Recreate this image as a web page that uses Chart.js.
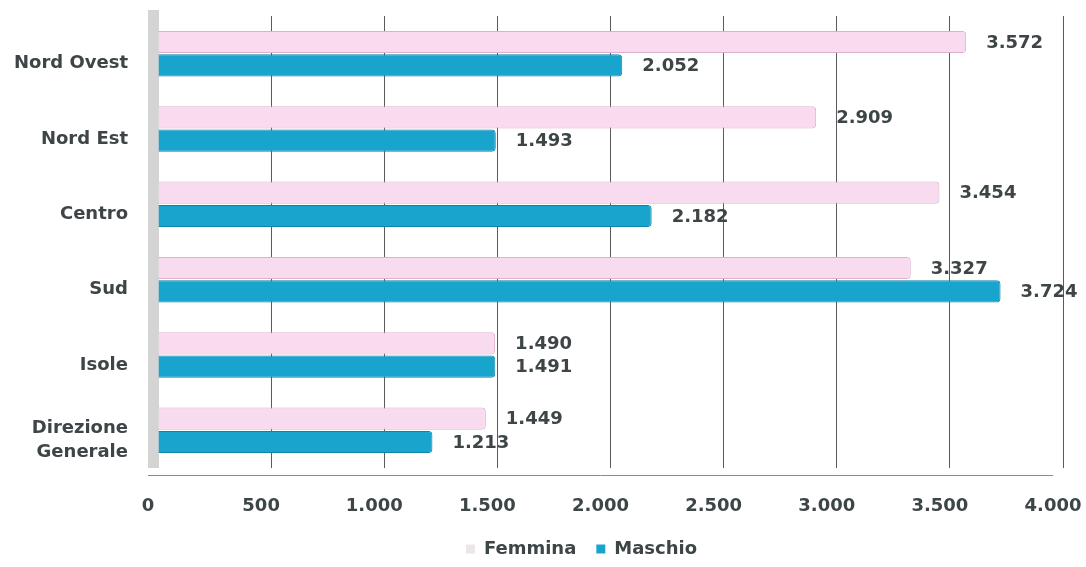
<!DOCTYPE html>
<html>
<head>
<meta charset="utf-8">
<script src="https://cdn.jsdelivr.net/npm/chart.js@4"></script>
<style>
  html, body { margin: 0; padding: 0; background: #fff; }
  #wrap { width: 1086px; height: 567px; }
</style>
</head>
<body>
<div id="wrap"><canvas id="chart" width="1086" height="567"></canvas></div>
<script>
// DATA
let areas = [['Nord Ovest'], ['Nord Est'], ['Centro'], ['Sud'], ['Isole'], ['Direzione', 'Generale']];
let femmina = [3572, 2909, 3454, 3327, 1490, 1449];
let maschio = [2052, 1493, 2182, 3724, 1491, 1213];
let xTicks = [0, 500, 1000, 1500, 2000, 2500, 3000, 3500, 4000];

let textColor = '#3d4547';
let fontFamily = '"DejaVu Sans", Verdana, sans-serif';
let fmt = v => v.toLocaleString('it-IT');

// left wall and floor of the old 3D chart
let wallPlugin = {
  id: 'wall',
  afterLayout(chart) {
    // legend sits a little right of centre in the original
    let lg = chart.legend;
    lg.left += 50;
    lg.right += 50;
    lg.top += 3;
    lg.bottom += 3;
  },
  beforeDatasetsDraw(chart) {
    let a = chart.chartArea;
    let c = chart.ctx;
    c.save();
    c.fillStyle = '#d4d4d4';
    c.fillRect(a.left - 10, a.top - 6, 11, a.bottom - a.top + 6);
    c.strokeStyle = '#8a8a8a';
    c.lineWidth = 1;
    c.beginPath();
    c.moveTo(a.left - 10, a.bottom + 7.5);
    c.lineTo(a.right - 10, a.bottom + 7.5);
    c.stroke();
    c.restore();
  }
};

// value labels at the end of each bar
let valuePlugin = {
  id: 'values',
  afterDatasetsDraw(chart) {
    let c = chart.ctx;
    c.save();
    c.font = 'bold 18px ' + fontFamily;
    c.fillStyle = textColor;
    c.textBaseline = 'middle';
    chart.data.datasets.forEach((ds, i) => {
      chart.getDatasetMeta(i).data.forEach((bar, j) => {
        c.fillText(fmt(ds.data[j]), bar.x + 20, bar.y + 1);
      });
    });
    c.restore();
  }
};

let ctx = document.querySelector('#chart').getContext('2d');
let chart = new Chart(ctx, {
  type: 'bar',
  data: {
    labels: areas,
    datasets: [{
      label: 'Femmina',
      data: femmina,
      backgroundColor: '#f9dbef',
      borderColor: '#dfb0c9',
      borderWidth: 1,
      borderRadius: 4,
      borderSkipped: 'start'
    }, {
      label: 'Maschio',
      data: maschio,
      backgroundColor: '#18a4cd',
      borderColor: '#0c84a9',
      borderWidth: 1,
      borderRadius: 4,
      borderSkipped: 'start'
    }]
  },
  options: {
    indexAxis: 'y',
    responsive: false,
    animation: false,
    layout: { padding: { top: 16, right: 23, bottom: 2, left: 0 } },
    datasets: { bar: { categoryPercentage: 0.62, barPercentage: 0.95 } },
    scales: {
      x: {
        min: 0,
        max: 4000,
        afterBuildTicks: s => { s.ticks = xTicks.map(v => ({ value: v })); },
        afterFit: s => { s.height = 49; s.paddingLeft = 0; s.paddingRight = 0; },
        grid: { color: '#5a5a5a', lineWidth: 1, drawTicks: false },
        border: { display: false },
        ticks: {
          color: textColor,
          padding: 28,
          labelOffset: -10,
          font: { family: fontFamily, size: 18, weight: 'bold' },
          callback: v => fmt(v)
        }
      },
      y: {
        afterFit: s => { s.width = 158; s.paddingTop = 0; s.paddingBottom = 0; },
        grid: { display: false, drawTicks: false },
        border: { display: false },
        ticks: {
          color: textColor,
          padding: 30,
          labelOffset: 10,
          font: { family: fontFamily, size: 18, weight: 'bold', lineHeight: 1.3 }
        }
      }
    },
    plugins: {
      legend: {
        position: 'bottom',
        labels: {
          color: textColor,
          boxWidth: 9,
          boxHeight: 9,
          padding: 20,
          font: { family: fontFamily, size: 18, weight: 'bold' },
          generateLabels: ch => ch.data.datasets.map((ds, i) => ({
            text: ds.label,
            fillStyle: i === 0 ? '#ece6ea' : '#18a4cd',
            strokeStyle: i === 0 ? '#ece6ea' : '#18a4cd',
            lineWidth: 0,
            fontColor: textColor,
            datasetIndex: i
          }))
        }
      },
      tooltip: { enabled: false }
    }
  },
  plugins: [wallPlugin, valuePlugin]
});
</script>
</body>
</html>
